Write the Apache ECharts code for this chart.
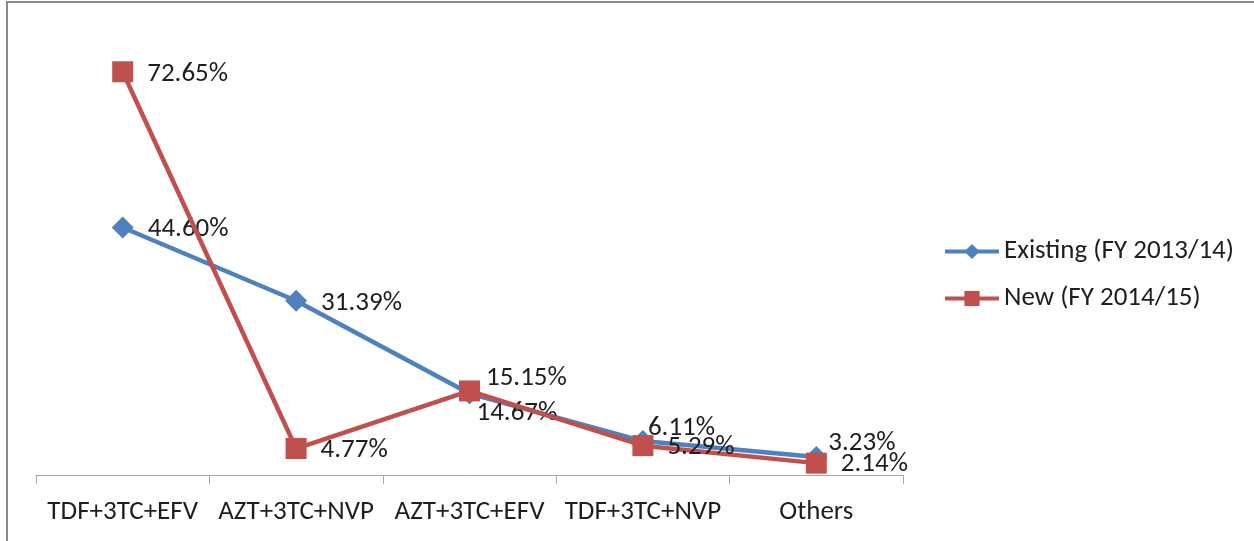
<!DOCTYPE html>
<html>
<head>
<meta charset="utf-8">
<script src="https://cdn.jsdelivr.net/npm/echarts@6/dist/echarts.min.js"></script>
<style>
  html, body { margin: 0; padding: 0; background: #fff; }
  #wrap { position: relative; width: 1254px; height: 541px; overflow: hidden; }
  #chart { position: absolute; left: 0; top: 0; width: 1254px; height: 541px; }
  .frame-top { position: absolute; left: 6px; top: 1px; width: 1248px; height: 2px; background: #8a8a8a; }
  .frame-left { position: absolute; left: 6px; top: 1px; width: 2px; height: 540px; background: #8a8a8a; }
</style>
</head>
<body>
<div id="wrap">
  <div id="chart"></div>
  <div class="frame-top"></div>
  <div class="frame-left"></div>
</div>
<script>
// Regimen shares, in percent
const categories = ['TDF+3TC+EFV', 'AZT+3TC+NVP', 'AZT+3TC+EFV', 'TDF+3TC+NVP', 'Others'];
const existingValues = [44.60, 31.39, 14.67, 6.11, 3.23];
const newValues = [72.65, 4.77, 15.15, 5.29, 2.14];
const seriesNames = ['Existing (FY 2013/14)', 'New (FY 2014/15)'];

// Label nudges where the two lines crowd each other
const existingLabelShift = [[0, 2], [0, 2], [-18, 20], [-20, -13], [-13, -14]];
const newLabelShift = [[0, 2], [0, 2], [-8, -13], [0, 2], [0, 1]];

const FONT = 'Carlito, "Open Sans", Lato, sans-serif';
const TEXT = '#1e1e1e';
const FONT_SIZE = 27;

function withLabels(values, shifts) {
  return values.map((v, i) => ({
    value: v,
    label: { offset: shifts[i] }
  }));
}

const baseLabel = {
  show: true,
  position: 'right',
  distance: 14,
  fontFamily: FONT,
  fontSize: FONT_SIZE,
  color: TEXT,
  formatter: p => p.value.toFixed(2) + '%'
};

const chart = echarts.init(document.getElementById('chart'), null, { renderer: 'canvas' });
chart.setOption({
  animation: false,
  backgroundColor: '#ffffff',
  grid: { left: 36, right: 351, top: 31, bottom: 66, containLabel: false },
  legend: {
    orient: 'vertical',
    left: 943,
    top: 238,
    padding: 0,
    itemWidth: 54,
    itemHeight: 19,
    itemGap: 20,
    data: seriesNames,
    lineStyle: { width: 4 },
    textStyle: { fontFamily: FONT, fontSize: FONT_SIZE, color: TEXT }
  },
  xAxis: {
    type: 'category',
    data: categories,
    boundaryGap: true,
    axisLine: { show: true, lineStyle: { color: '#a6a6a6', width: 1 } },
    axisTick: { show: true, length: 9, interval: 0, lineStyle: { color: '#a6a6a6' } },
    axisLabel: { interval: 0, margin: 24, fontFamily: FONT, fontSize: FONT_SIZE, color: TEXT },
    splitLine: { show: false }
  },
  yAxis: {
    type: 'value',
    min: 0,
    max: 80,
    show: false,
    splitLine: { show: false }
  },
  series: [
    {
      name: seriesNames[0],
      type: 'line',
      data: withLabels(existingValues, existingLabelShift),
      symbol: 'diamond',
      symbolSize: 22,
      lineStyle: { color: '#4f81bd', width: 4.5 },
      itemStyle: { color: '#4f81bd' },
      label: baseLabel,
      z: 2
    },
    {
      name: seriesNames[1],
      type: 'line',
      data: withLabels(newValues, newLabelShift),
      symbol: 'rect',
      symbolSize: 21,
      lineStyle: { color: '#c0504d', width: 4.5 },
      itemStyle: { color: '#c0504d' },
      label: baseLabel,
      z: 3
    }
  ]
});
</script>
</body>
</html>
